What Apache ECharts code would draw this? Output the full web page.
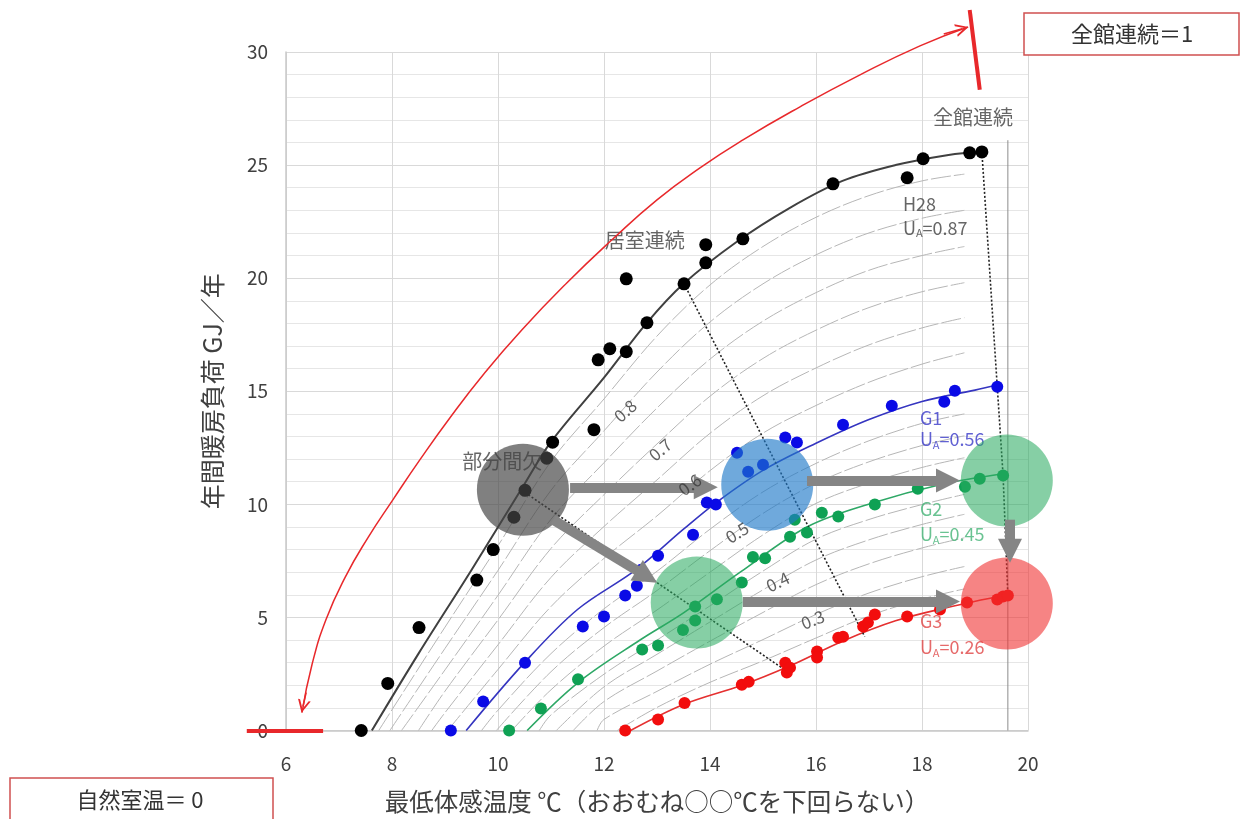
<!DOCTYPE html>
<html><head><meta charset="utf-8">
<script src="https://cdn.jsdelivr.net/npm/echarts@6/dist/echarts.min.js"></script>
<style>html,body{margin:0;padding:0;background:#fff}#c{width:1245px;height:819px}</style>
</head><body><div id="c"></div>
<script>
// ---- axis ticks ----
const xTicks = [6, 8, 10, 12, 14, 16, 18, 20];
const yTicks = [0, 5, 10, 15, 20, 25, 30];

// ---- measured points ----
const h28Points = [[7.42,0],[7.92,2.08],[8.51,4.55],[9.6,6.65],[9.91,8.0],[10.3,9.43],[10.51,10.62],[10.92,12.04],[11.03,12.75],[11.81,13.3],[11.89,16.39],[12.11,16.88],[12.42,16.75],[12.42,19.97],[12.81,18.03],[13.51,19.75],[13.92,20.68],[13.92,21.48],[14.62,21.74],[16.32,24.17],[17.72,24.44],[18.02,25.28],[18.9,25.54],[19.13,25.58]];
const g1Points = [[9.11,0],[9.72,1.28],[10.51,3.0],[11.6,4.6],[12.0,5.04],[12.4,5.97],[12.62,6.4],[12.7,7.11],[13.02,7.73],[13.68,8.66],[13.94,10.08],[14.11,9.99],[14.51,12.28],[14.72,11.44],[15.0,11.75],[15.42,12.95],[15.64,12.73],[16.51,13.52],[17.43,14.36],[18.42,14.54],[18.62,15.02],[19.42,15.2]];
const g2Points = [[10.21,0],[10.81,0.97],[11.51,2.27],[12.72,3.58],[13.02,3.76],[13.49,4.44],[13.72,4.86],[13.72,5.48],[14.13,5.8],[14.6,6.54],[14.81,7.67],[15.04,7.62],[15.51,8.57],[15.6,9.32],[15.83,8.75],[16.11,9.63],[16.42,9.46],[17.11,9.99],[17.92,10.69],[18.81,10.78],[19.09,11.13],[19.53,11.27]];
const g3Points = [[12.4,0],[13.02,0.49],[13.52,1.22],[14.6,2.02],[14.73,2.15],[15.42,3.0],[15.45,2.56],[15.51,2.78],[16.02,3.49],[16.02,3.23],[16.42,4.1],[16.51,4.15],[16.89,4.6],[16.98,4.77],[17.11,5.13],[17.72,5.04],[18.34,5.35],[18.85,5.66],[19.42,5.79],[19.53,5.92],[19.62,5.97]];

// ---- fitted curves ----
const h28Curve = [[7.62,0],[8.5,3.4],[9.5,7.1],[10.5,10.9],[11.0,12.76],[12.0,15.6],[12.8,18.0],[13.5,19.75],[14.5,21.6],[15.5,23.1],[16.5,24.3],[17.5,25.0],[18.5,25.45],[19.13,25.6]];
const g1Curve = [[9.4,0],[10.5,3.0],[11.5,5.35],[12.6,7.1],[13.5,8.9],[14.13,10.1],[15.0,11.5],[16.0,12.7],[17.0,13.75],[18.0,14.55],[19.0,15.05],[19.45,15.3]];
const g2Curve = [[10.55,0],[11.5,2.1],[12.68,4.0],[13.5,5.2],[14.57,7.0],[15.83,9.0],[17.08,10.07],[18.34,10.87],[19.53,11.35]];
const g3Curve = [[12.5,0],[13.5,1.15],[14.6,2.0],[15.5,2.85],[16.5,3.95],[17.5,4.85],[18.5,5.45],[19.6,6.0]];

// ---- thin grey UA contour curves ----
const contour085 = [[7.75,0],[8,0.92],[9,4.57],[10,8.17],[11,11.9],[12,14.66],[13,17.44],[14,19.7],[15,21.4],[16,22.69],[17,23.65],[18,24.3],[18.8,24.6]];
const contour080 = [[7.96,0],[9,3.63],[10,7.08],[11,10.62],[12,13.25],[13,15.85],[14,18.06],[15,19.75],[16,21.03],[17,22.0],[18,22.65],[18.8,23.0]];
const contour075 = [[8.18,0],[9,2.68],[10,5.98],[11,9.34],[12,11.84],[13,14.26],[14,16.42],[15,18.1],[16,19.36],[17,20.35],[18,21.0],[18.8,21.4]];
const contour070 = [[8.5,0],[9,1.74],[10,4.89],[11,8.05],[12,10.43],[13,12.67],[14,14.78],[15,16.45],[16,17.7],[17,18.7],[18,19.4],[18.8,19.8]];
const contour065 = [[8.75,0],[9,0.79],[10,3.79],[11,6.77],[12,9.02],[13,11.08],[14,13.14],[15,14.8],[16,16.03],[17,17.05],[18,17.8],[18.8,18.25]];
const contour060 = [[9.05,0],[10,2.7],[11,5.48],[12,7.61],[13,9.49],[14,11.49],[15,13.15],[16,14.37],[17,15.4],[18,16.2],[18.8,16.7]];
const contour053 = [[9.69,0],[10,0.9],[11,3.4],[12,5.38],[13,7.04],[14,8.9],[15,10.55],[16,11.81],[17,12.81],[18,13.58],[18.8,14.0]];
const contour050 = [[9.97,0],[11,2.6],[12,4.55],[13,6.19],[14,7.95],[15,9.6],[16,10.93],[17,11.88],[18,12.6],[18.8,13.03]];
const contour047 = [[10.26,0],[11,1.8],[12,3.73],[13,5.33],[14,7.0],[15,8.65],[16,10.04],[17,10.94],[18,11.63],[18.8,12.06]];
const contour042 = [[10.78,0],[11,0.69],[12,2.49],[13,4.0],[14,5.51],[15,7.05],[16,8.46],[17,9.33],[18,9.99],[18.8,10.44]];
const contour040 = [[11.1,0],[12,1.93],[13,3.37],[14,4.8],[15,6.22],[16,7.54],[17,8.43],[18,9.11],[18.8,9.56]];
const contour036 = [[11.42,0],[12,1.28],[13,2.63],[14,3.95],[15,5.22],[16,6.45],[17,7.37],[18,8.07],[18.8,8.52]];
const contour030 = [[11.87,0],[12,0.49],[13,1.73],[14,2.93],[15,4.02],[16,5.13],[17,6.08],[18,6.8],[18.8,7.25]];
const contour028 = [[12.25,0],[13,1.02],[14,2.13],[15,3.08],[16,4.09],[17,5.07],[18,5.81],[18.8,6.26]];
const contours = [contour085, contour080, contour075, contour070, contour065, contour060, contour053, contour050, contour047, contour042, contour040, contour036, contour030, contour028];

// contour value labels
const contourLabelText = ['0.8', '0.7', '0.6', '0.5', '0.4', '0.3'];
const contourLabelX = [12.4, 13.06, 13.62, 14.51, 15.28, 15.94];
const contourLabelY = [14.14, 12.42, 10.87, 8.75, 6.58, 4.9];
const contourLabelAngle = [42, 40, 36, 32, 26, 21];

// ---- dotted connection lines ----
const dotLivingRoom = [[13.51,19.75],[16.92,4.15]];
const dotWholeHouse = [[19.13,25.58],[19.42,15.2],[19.53,11.27],[19.62,5.97]];
const dotPartial = [[10.51,10.52],[15.45,2.62]];
const greyFrameLine = [[19.62,0],[19.62,26.1]];

// ---- big translucent bubbles ----
const bubbleCentres = [[10.47,10.65],[15.08,10.87],[19.6,11.05],[13.75,5.66],[19.6,5.62]];
const bubbleColours = ['rgba(70,70,70,0.86)','rgba(30,120,200,0.8)','rgba(40,170,95,0.7)','rgba(40,170,95,0.7)','rgba(240,50,50,0.75)'];

// ---- grey block arrows (start, end) ----
const arrowStarts = [[11.36,10.75],[11.04,9.32],[15.83,11.05],[14.62,5.7],[19.66,9.32]];
const arrowEnds = [[13.92,10.75],[12.81,6.81],[18.49,11.05],[18.49,5.7],[19.66,7.95]];

// ---- red range arc ----
const redArc = [[6.302,0.795],[6.491,2.917],[6.755,4.905],[7.113,6.761],[7.547,8.528],[8.019,10.208],[8.528,11.975],[9.094,13.831],[9.736,15.775],[10.453,17.72],[11.302,19.797],[12.151,21.697],[13.0,23.464],[13.811,24.878],[14.623,26.115],[15.698,27.574],[16.83,28.988],[17.962,30.27],[18.868,31.109]];
const redArrowBottom = [[6.38,1.68],[6.32,1.06]];
const redArrowTop = [[18.41,30.8],[18.76,31.03]];
const redBarBottom = [[5.26,0],[6.7,0]];
const redBarTop = [[18.9,31.86],[19.09,28.33]];

// ---- text notes ----
const BLUE = '#3a3ac8', GREEN = '#45b477', RED = '#e04545', DARK = '#404040';
const noteText = ['全館連続', '居室連続', '部分間欠', 'H28', 'G1', 'G2', 'G3'];
const noteX = [18.96, 12.77, 10.08, 17.64, 17.96, 17.96, 17.96];
const noteY = [27.13, 21.65, 11.89, 23.29, 13.83, 9.77, 4.82];
const noteAlign = ['center', 'center', 'center', 'left', 'left', 'left', 'left'];
const noteColour = [DARK, DARK, DARK, DARK, BLUE, GREEN, RED];
const noteSize = [20, 20, 20, 18, 18, 18, 18];
const uaValue = ['0.87', '0.56', '0.45', '0.26'];
const uaX = [17.64, 17.96, 17.96, 17.96];
const uaY = [22.23, 12.86, 8.66, 3.67];
const uaColour = [DARK, BLUE, GREEN, RED];

const FONT = "'Noto Sans CJK JP', 'Noto Sans', sans-serif";
const chart = echarts.init(document.getElementById('c'), null, {renderer: 'canvas'});

const series = [];
contours.forEach(c => series.push({
  type: 'line', data: c, smooth: 0.35, showSymbol: false, silent: true, z: 1,
  lineStyle: {color: '#b6b6b6', width: 1, type: [20, 3]}
}));
[[h28Curve, '#404040', 2], [g1Curve, '#3535c0', 1.6], [g2Curve, '#2ea866', 1.6], [g3Curve, '#e53030', 1.6]].forEach(([d, col, w]) => series.push({
  type: 'line', data: d, smooth: 0.35, showSymbol: false, silent: true, z: 2, lineStyle: {color: col, width: w}
}));
series.push({type: 'line', data: greyFrameLine, showSymbol: false, silent: true, z: 2, lineStyle: {color: '#8c8c8c', width: 1}});
[dotLivingRoom, dotWholeHouse, dotPartial].forEach(d => series.push({
  type: 'line', data: d, showSymbol: false, silent: true, z: 3, lineStyle: {color: '#222', width: 1.6, type: [2, 2]}
}));
[[h28Points, '#000', 13], [g1Points, '#0a0ae6', 12], [g2Points, '#0fa154', 12], [g3Points, '#f20d0d', 12]].forEach(([d, col, s]) => series.push({
  type: 'scatter', data: d, symbolSize: s, silent: true, z: 3, itemStyle: {color: col, opacity: 1}
}));
// notes (under bubbles)
series.push({
  type: 'scatter', symbolSize: 0, silent: true, z: 4,
  data: noteText.map((t, i) => ({
    value: [noteX[i], noteY[i]],
    label: {show: true, position: 'inside', formatter: t, align: noteAlign[i], verticalAlign: 'middle',
      color: noteColour[i], fontSize: noteSize[i], fontFamily: FONT}
  })).concat(uaValue.map((v, i) => ({
    value: [uaX[i], uaY[i]],
    label: {show: true, position: 'inside', align: 'left', verticalAlign: 'middle',
      formatter: '{u|U}{s|A}{u|=' + v + '}',
      rich: {
        u: {fontSize: 18, color: uaColour[i], fontFamily: FONT, lineHeight: 22},
        s: {fontSize: 11, color: uaColour[i], fontFamily: FONT, lineHeight: 11, verticalAlign: 'bottom'}
      }}
  })))
});
// bubbles
series.push({
  type: 'scatter', symbolSize: 92, silent: true, z: 5,
  data: bubbleCentres.map((c, i) => ({value: c, itemStyle: {color: bubbleColours[i]}}))
});
// grey block arrows
series.push({
  type: 'lines', coordinateSystem: 'cartesian2d', silent: true, z: 6, clip: false,
  symbol: ['none', 'triangle'], symbolSize: [34, 24],
  lineStyle: {color: '#858585', width: 10, opacity: 1, curveness: 0},
  data: arrowStarts.map((s, i) => ({coords: [s, arrowEnds[i]]}))
});
// contour value labels (above arrows)
series.push({
  type: 'scatter', symbolSize: 0, silent: true, z: 8,
  data: contourLabelText.map((t, i) => ({
    value: [contourLabelX[i], contourLabelY[i]],
    label: {show: true, position: 'inside', formatter: t, rotate: contourLabelAngle[i],
      color: '#3a3a3a', fontSize: 17, fontFamily: FONT}
  }))
});
// red arc
series.push({
  type: 'line', data: redArc, smooth: 0.5, showSymbol: false, silent: true, clip: false, z: 7,
  lineStyle: {color: '#e8282b', width: 1.5}
});
series.push({
  type: 'lines', coordinateSystem: 'cartesian2d', silent: true, z: 7, clip: false,
  symbol: ['none', 'path://M0,10 L5,0 L10,10 L8.4,10 L5,3.2 L1.6,10 Z'], symbolSize: [14, 13],
  lineStyle: {color: '#e8282b', width: 1.5, opacity: 1},
  data: [{coords: redArrowBottom}, {coords: redArrowTop}]
});
series.push({
  type: 'lines', coordinateSystem: 'cartesian2d', silent: true, z: 7, clip: false,
  symbol: ['none', 'none'],
  lineStyle: {color: '#e8282b', width: 4, opacity: 1},
  data: [{coords: redBarBottom}, {coords: redBarTop}]
});

chart.setOption({
  animation: false,
  backgroundColor: '#fff',
  textStyle: {fontFamily: FONT},
  grid: {left: 286, right: 217, top: 52, bottom: 88, containLabel: false},
  xAxis: {
    type: 'value', min: xTicks[0], max: xTicks[xTicks.length - 1], interval: xTicks[1] - xTicks[0],
    name: '最低体感温度 ℃（おおむね○○℃を下回らない）', nameLocation: 'middle', nameGap: 59,
    nameTextStyle: {fontSize: 24.5, color: '#404040', fontFamily: FONT},
    axisLine: {show: true, lineStyle: {color: '#c8c8c8', width: 1.5}},
    axisTick: {show: false},
    axisLabel: {fontSize: 19, color: '#404040', margin: 24, fontFamily: FONT},
    splitLine: {show: true, lineStyle: {color: '#d9d9d9', width: 1}}
  },
  yAxis: {
    type: 'value', min: yTicks[0], max: yTicks[yTicks.length - 1], interval: yTicks[1] - yTicks[0],
    name: '年間暖房負荷 GJ／年', nameLocation: 'middle', nameGap: 61,
    nameTextStyle: {fontSize: 25, color: '#404040', fontFamily: FONT},
    axisLine: {show: true, lineStyle: {color: '#c8c8c8', width: 1.5}},
    axisTick: {show: false},
    axisLabel: {fontSize: 19, color: '#404040', margin: 18, fontFamily: FONT},
    splitLine: {show: true, lineStyle: {color: '#d9d9d9', width: 1}},
    minorTick: {show: false, splitNumber: 5},
    minorSplitLine: {show: true, lineStyle: {color: '#e6e6e6', width: 1}}
  },
  graphic: [
    {type: 'rect', shape: {x: 1024, y: 13, width: 215, height: 42}, style: {fill: '#fff', stroke: '#d05050', lineWidth: 1.5}, z: 10},
    {type: 'text', x: 1132, y: 34, style: {text: '全館連続＝1', fontSize: 22, fill: '#333', align: 'center', verticalAlign: 'middle', fontFamily: FONT}, z: 11},
    {type: 'rect', shape: {x: 10, y: 778, width: 263, height: 50}, style: {fill: '#fff', stroke: '#d05050', lineWidth: 1.5}, z: 10},
    {type: 'text', x: 140, y: 800, style: {text: '自然室温＝ 0', fontSize: 22, fill: '#333', align: 'center', verticalAlign: 'middle', fontFamily: FONT}, z: 11}
  ],
  series: series
});
</script></body></html>
